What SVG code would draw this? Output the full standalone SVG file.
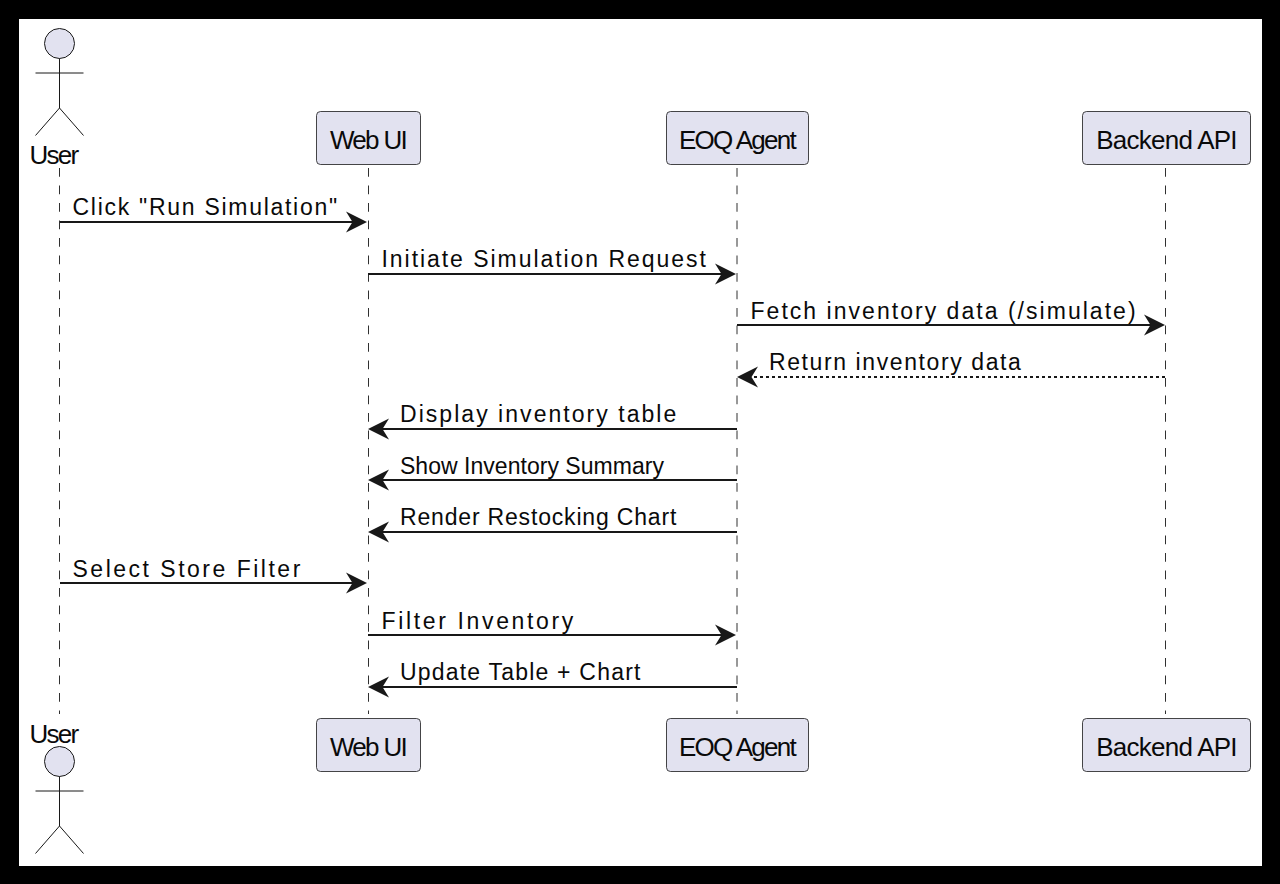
<svg xmlns="http://www.w3.org/2000/svg" width="1280" height="884" viewBox="0 0 1280 884">
<style>
.life{stroke:#303030;stroke-width:1;stroke-dasharray:8.75 8.75;fill:none}
.box{fill:#E2E2F0;stroke:#181818;stroke-width:.8}
.st{stroke:#181818;stroke-width:1;fill:none}
.head{fill:#E2E2F0;stroke:#181818;stroke-width:1}
.msg{stroke:#181818;stroke-width:2;fill:none}
.dash{stroke-dasharray:3 3}
.ah{fill:#181818;stroke:none}
text{font-family:"Liberation Sans",Arial,sans-serif;fill:#0a0a0a}
.n{font-size:26px;letter-spacing:-1.7px;text-anchor:middle}
.l{font-size:23px}
</style>
<defs>
<path id="ar" class="ah" d="M0 0L-21-10.500-14.500 0-21 10.500Z"/>
<path id="al" class="ah" d="M0 0L21-10.500 14.500 0 21 10.500Z"/>
</defs>
<rect width="1280" height="884" fill="#000"/>
<rect x="19" y="19" width="1243" height="847" fill="#fff"/>
<g id="lifelines">
<line class="life" x1="59.500" y1="168" x2="59.500" y2="714"/>
<line class="life" x1="368.500" y1="168" x2="368.500" y2="714"/>
<line class="life" x1="737" y1="168" x2="737" y2="714"/>
<line class="life" x1="1165.500" y1="168" x2="1165.500" y2="714"/>
</g>
<g id="connectors">
<line class="msg" x1="60" y1="222" x2="362" y2="222"/><use href="#ar" x="367" y="222"/>
<line class="msg" x1="368" y1="274" x2="731" y2="274"/><use href="#ar" x="736" y="274"/>
<line class="msg" x1="737" y1="325" x2="1160" y2="325"/><use href="#ar" x="1165" y="325"/>
<line class="msg dash" x1="1165" y1="377" x2="745" y2="377"/><use href="#al" x="737" y="377"/>
<line class="msg" x1="737" y1="429" x2="375" y2="429"/><use href="#al" x="368" y="429"/>
<line class="msg" x1="737" y1="480" x2="375" y2="480"/><use href="#al" x="368" y="480"/>
<line class="msg" x1="737" y1="532" x2="375" y2="532"/><use href="#al" x="368" y="532"/>
<line class="msg" x1="60" y1="583" x2="362" y2="583"/><use href="#ar" x="367" y="583"/>
<line class="msg" x1="368" y1="635" x2="731" y2="635"/><use href="#ar" x="736" y="635"/>
<line class="msg" x1="737" y1="687" x2="375" y2="687"/><use href="#al" x="368" y="687"/>
</g>
<g id="labels">
<text class="l" x="72.500" y="215" style="letter-spacing:1.72px">Click "Run Simulation"</text>
<text class="l" x="381.500" y="267" style="letter-spacing:1.95px">Initiate Simulation Request</text>
<text class="l" x="750.500" y="319" style="letter-spacing:2.03px">Fetch inventory data (/simulate)</text>
<text class="l" x="769" y="370" style="letter-spacing:1.6px">Return inventory data</text>
<text class="l" x="400" y="422" style="letter-spacing:2.04px">Display inventory table</text>
<text class="l" x="400" y="474" style="letter-spacing:.03px">Show Inventory Summary</text>
<text class="l" x="400" y="525" style="letter-spacing:.82px">Render Restocking Chart</text>
<text class="l" x="72.500" y="577" style="letter-spacing:2.5px">Select Store Filter</text>
<text class="l" x="381.500" y="629" style="letter-spacing:2.65px">Filter Inventory</text>
<text class="l" x="400" y="680" style="letter-spacing:1.2px">Update Table + Chart</text>
</g>
<g id="user-top">
<circle class="head" cx="59.500" cy="43.500" r="15"/>
<path class="st" d="M59.500 58.500V108M35.500 73H83.500M35.500 135.500L59.500 108 83.500 135.500"/>
<text class="n" x="53.500" y="163.500">User</text>
</g>
<g id="webui-top"><rect class="box" x="316.500" y="111.500" width="104" height="53" rx="4"/><text class="n" x="368" y="148.500">Web UI</text></g>
<g id="eoq-top"><rect class="box" x="666.500" y="111.500" width="142" height="53" rx="4"/><text class="n" x="737" y="148.500">EOQ Agent</text></g>
<g id="api-top"><rect class="box" x="1082.500" y="111.500" width="168" height="53" rx="4"/><text class="n" x="1166.500" y="148.500" style="letter-spacing:-.75px">Backend API</text></g>
<g id="user-bottom">
<text class="n" x="53.500" y="742.500">User</text>
<circle class="head" cx="59.500" cy="761.500" r="15"/>
<path class="st" d="M59.500 776.500V826M35.500 791H83.500M35.500 853.500L59.500 826 83.500 853.500"/>
</g>
<g id="webui-bottom"><rect class="box" x="316.500" y="718.500" width="104" height="53" rx="4"/><text class="n" x="368" y="755.500">Web UI</text></g>
<g id="eoq-bottom"><rect class="box" x="666.500" y="718.500" width="142" height="53" rx="4"/><text class="n" x="737" y="755.500">EOQ Agent</text></g>
<g id="api-bottom"><rect class="box" x="1082.500" y="718.500" width="168" height="53" rx="4"/><text class="n" x="1166.500" y="755.500" style="letter-spacing:-.75px">Backend API</text></g>
</svg>
